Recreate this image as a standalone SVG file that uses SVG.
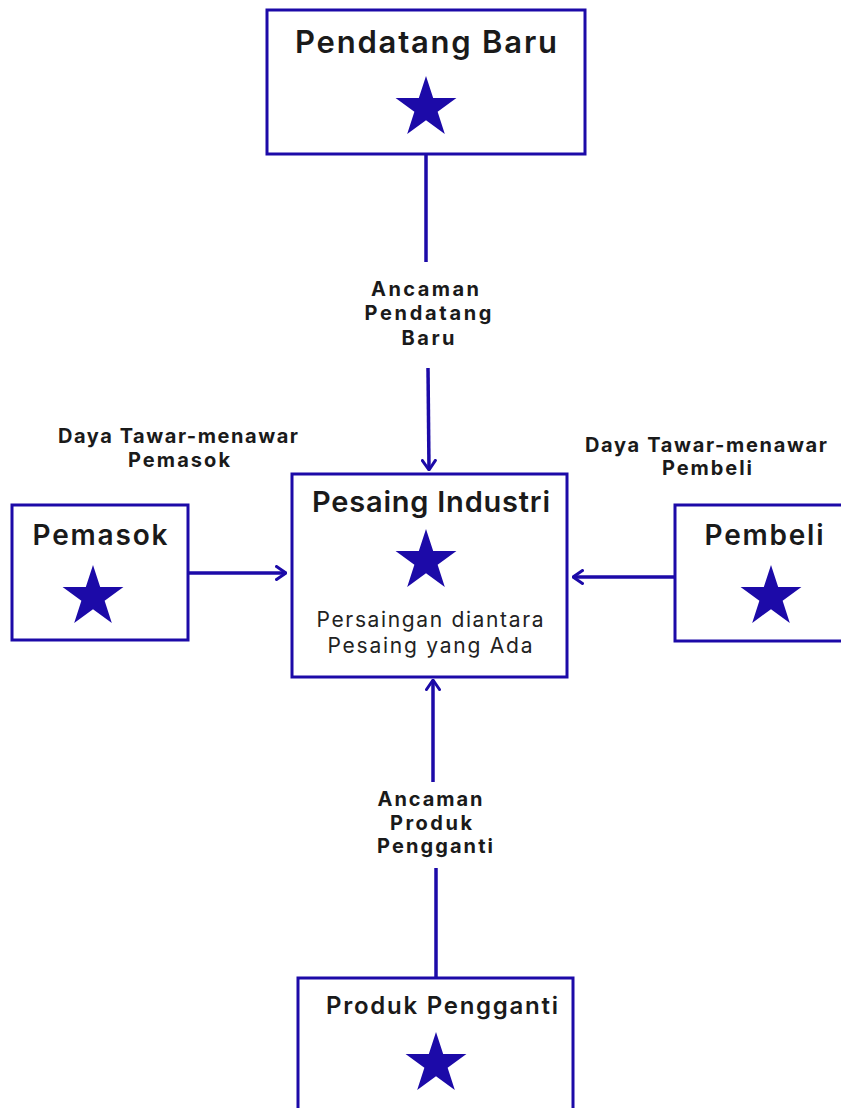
<svg xmlns="http://www.w3.org/2000/svg" width="841" height="1108" viewBox="0 0 841 1108">
<style>
.box{fill:#fff;stroke:#1c0aa8;stroke-width:3}
.title{font-family:Inter,"Liberation Sans",sans-serif;font-weight:600;fill:#1a1a1a;text-anchor:middle}
.lbl{font-family:Inter,"Liberation Sans",sans-serif;font-weight:700;font-size:20px;fill:#1a1a1a;text-anchor:middle}
.sub{font-family:Inter,"Liberation Sans",sans-serif;font-weight:400;font-size:21px;fill:#222;text-anchor:middle}
.star{fill:#1c0aa8}
.conn{stroke:#1c0aa8;stroke-width:3.5;fill:none}
</style>
<defs>
<path id="star" d="M0,-32 L7.18,-9.89 L30.43,-9.89 L11.62,3.78 L18.81,25.89 L0,12.22 L-18.81,25.89 L-11.62,3.78 L-30.43,-9.89 L-7.18,-9.89 Z"/>
<marker id="arr" markerUnits="userSpaceOnUse" viewBox="0 0 12 16" refX="11" refY="8" markerWidth="12" markerHeight="16" orient="auto">
<path d="M1.5,1.5 L11,8 L1.5,14.5" fill="none" stroke="#1c0aa8" stroke-width="3" stroke-linecap="round" stroke-linejoin="round"/>
</marker>
</defs>
<rect width="841" height="1108" fill="#fff"/>
<g id="connectors">
<line class="conn" x1="426" y1="154" x2="426" y2="262"/>
<line class="conn" x1="428" y1="368" x2="429" y2="470" marker-end="url(#arr)"/>
<line class="conn" x1="188" y1="573" x2="286" y2="573" marker-end="url(#arr)"/>
<line class="conn" x1="675" y1="577" x2="573" y2="577" marker-end="url(#arr)"/>
<line class="conn" x1="436" y1="978" x2="436" y2="868"/>
<line class="conn" x1="433" y1="782" x2="433" y2="680" marker-end="url(#arr)"/>
<text class="lbl" x="425" y="296" textLength="108">Ancaman</text>
<text class="lbl" x="428" y="320" textLength="127">Pendatang</text>
<text class="lbl" x="428" y="345" textLength="53">Baru</text>
<text class="lbl" x="430" y="806" textLength="105">Ancaman</text>
<text class="lbl" x="431" y="830" textLength="82">Produk</text>
<text class="lbl" x="435" y="853" textLength="116">Pengganti</text>
<text class="lbl" x="178" y="443" textLength="240">Daya Tawar-menawar</text>
<text class="lbl" x="179" y="467" textLength="102">Pemasok</text>
<text class="lbl" x="706" y="452" textLength="242">Daya Tawar-menawar</text>
<text class="lbl" x="707" y="475" textLength="90">Pembeli</text>
</g>
<g id="pendatang-baru">
<rect class="box" x="267" y="10" width="318" height="144"/>
<text class="title" x="426" y="53" font-size="31" textLength="262">Pendatang Baru</text>
<use href="#star" class="star" x="426" y="108"/>
</g>
<g id="pesaing-industri">
<rect class="box" x="292" y="474" width="275" height="203"/>
<text class="title" x="431" y="512" font-size="29" textLength="238">Pesaing Industri</text>
<use href="#star" class="star" x="426" y="561"/>
<text class="sub" x="430" y="627" textLength="227">Persaingan diantara</text>
<text class="sub" x="430" y="653" textLength="205">Pesaing yang Ada</text>
</g>
<g id="pemasok">
<rect class="box" x="12" y="505" width="176" height="135"/>
<text class="title" x="100" y="545" font-size="28" textLength="135">Pemasok</text>
<use href="#star" class="star" x="93" y="597"/>
</g>
<g id="pembeli">
<rect class="box" x="675" y="505" width="180" height="136"/>
<text class="title" x="764" y="545" font-size="28" textLength="119">Pembeli</text>
<use href="#star" class="star" x="771" y="597"/>
</g>
<g id="produk-pengganti">
<rect class="box" x="298" y="978" width="275" height="150"/>
<text class="title" x="442" y="1014" font-size="24" textLength="232">Produk Pengganti</text>
<use href="#star" class="star" x="436" y="1064"/>
</g>
</svg>
